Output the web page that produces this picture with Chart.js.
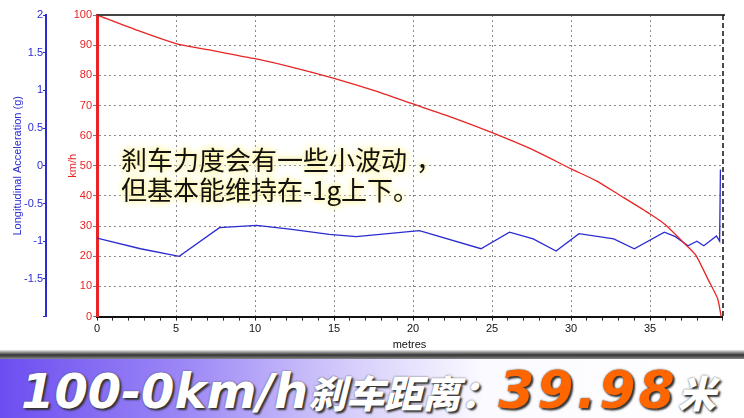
<!DOCTYPE html>
<html>
<head>
<meta charset="utf-8">
<script src="https://cdn.jsdelivr.net/npm/chart.js@4.4.1/dist/chart.umd.min.js"></script>
<style>
  body{margin:0;width:744px;height:418px;overflow:hidden;background:#fff;position:relative;font-family:"Liberation Sans",Arial,sans-serif}
  #wrap{position:absolute;left:0;top:0;width:744px;height:354px}
  #note{position:absolute;left:121px;top:144px;font-family:"Noto Sans CJK SC",sans-serif;font-size:26px;line-height:30px;color:#111;
        text-shadow:0 0 3px #fff7b0,0 0 6px #fff3a0,0 0 9px #fff3a0;white-space:nowrap}
  #note .cm{padding-left:9px}
  #shade{position:absolute;left:0;top:350px;width:744px;height:9px;background:linear-gradient(#e8e8e8,#333 55%,#888)}
  #banner{position:absolute;left:0;top:359px;width:744px;height:59px;background:linear-gradient(90deg,#6c4ef0 0%,#9d88f6 25%,#d8d0fb 48%,#fbfaff 65%,#fff 100%)}
  #title{position:absolute;left:21px;top:366px;white-space:nowrap;font-weight:bold;font-style:italic;color:#fff;line-height:48px;
         font-family:"DejaVu Sans",sans-serif;font-size:48px;text-shadow:2px 2px 2px #333,0 0 2px #555}
  #title .cn{font-family:"Noto Sans CJK SC",sans-serif;font-size:38px;font-weight:900}
  #title .val{color:#ff6600;font-size:52px;letter-spacing:3px}
</style>
</head>
<body>
<div id="wrap"><canvas id="brakechart"></canvas></div>
<div id="note">刹车力度会有一些小波动<span class="cm">，</span><br>但基本能维持在-1g上下。</div>
<div id="shade"></div>
<div id="banner"></div>
<div id="title"><span>100-0km/h</span><span class="cn">刹车距离：</span><span class="val">39.98</span><span class="cn">米</span></div>
<script>
// speed curve (km/h vs metres)
const speedDist = [0, 2.5, 5, 7.5, 10, 12.5, 15, 17.5, 20, 22.5, 25, 27.5, 30, 31.6, 33, 35, 36, 37.3, 37.9, 38.7, 39.27, 39.5]
const speedVals = [100, 95, 90.5, 88, 85.5, 82.5, 79, 75, 70.5, 66, 61, 55.5, 49, 45, 40.5, 34, 30.3, 23.6, 20.3, 12, 6, 0]

// longitudinal acceleration (g vs metres)
const accelDist = [0, 2.75, 5.2, 7.75, 10.1, 12.2, 14.7, 16.4, 20.4, 24.3, 26.1, 27.6, 29.05, 30.5, 32.7, 34.0, 35.9, 36.6, 37.4, 37.96, 38.4, 39.2, 39.4, 39.45]
const accelVals = [-0.96, -1.10, -1.20, -0.82, -0.79, -0.84, -0.91, -0.94, -0.86, -1.10, -0.88, -0.97, -1.13, -0.90, -0.97, -1.10, -0.88, -0.94, -1.06, -1.00, -1.06, -0.93, -1.00, -0.05]

const distMax = 39.55
const xLabelStep = 5
const speedTicks = [0, 100, 10]   // min, max, step
const accelTicks = [-2, 2, 0.5]

const blue = '#2b2bd0'
const red = '#e82424'

// top border line + dashed cursor at the end of the run
const frame = {
  id: 'frame',
  afterDatasetsDraw(chart) {
    const {ctx, chartArea: a} = chart
    ctx.save()
    ctx.strokeStyle = '#444'
    ctx.lineWidth = 2
    ctx.beginPath(); ctx.moveTo(a.left, a.top); ctx.lineTo(a.right + 3, a.top); ctx.stroke()
    ctx.strokeStyle = '#111'
    ctx.lineWidth = 1.5
    ctx.setLineDash([5, 3])
    ctx.beginPath(); ctx.moveTo(a.right + 1, a.top); ctx.lineTo(a.right + 1, a.bottom); ctx.stroke()
    ctx.restore()
  }
}

const ctx = document.getElementById('brakechart').getContext('2d')
new Chart(ctx, {
  type: 'line',
  data: {
    datasets: [
      {
        label: 'km/h',
        data: speedDist.map((d, i) => ({x: d, y: speedVals[i]})),
        borderColor: red,
        borderWidth: 1.3,
        pointRadius: 0,
        tension: 0.2,
        yAxisID: 'y'
      },
      {
        label: 'Longitudinal Acceleration (g)',
        data: accelDist.map((d, i) => ({x: d, y: accelVals[i]})),
        borderColor: blue,
        borderWidth: 1.3,
        pointRadius: 0,
        tension: 0,
        yAxisID: 'g'
      }
    ]
  },
  options: {
    responsive: true,
    maintainAspectRatio: false,
    animation: false,
    events: [],
    layout: {padding: {top: 15, right: 22, bottom: 2, left: 0}},
    plugins: {legend: {display: false}, tooltip: {enabled: false}},
    scales: {
      x: {
        type: 'linear',
        min: 0,
        max: distMax,
        ticks: {
          stepSize: 1,
          autoSkip: false,
          maxRotation: 0,
          padding: 2,
          color: '#111',
          font: {size: 11, family: 'Liberation Sans'},
          callback: v => (v % xLabelStep === 0 ? v : '')
        },
        grid: {
          color: c => (c.tick && c.tick.value % xLabelStep === 0 && c.tick.value > 0 ? '#8a8a8a' : 'transparent'),
          tickColor: '#222',
          tickLength: 4
        },
        border: {color: '#111', width: 2, dash: [2, 3]},
        title: {display: true, text: 'metres', color: '#111', font: {size: 11, family: 'Liberation Sans'}, padding: {top: 1, bottom: 0}}
      },
      y: {
        position: 'left',
        weight: 0,
        min: speedTicks[0],
        max: speedTicks[1],
        ticks: {stepSize: speedTicks[2], color: red, padding: 1, font: {size: 11, family: 'Liberation Sans'}},
        grid: {
          color: c => (c.tick && c.tick.value > 0 && c.tick.value < 100 ? '#8a8a8a' : 'transparent'),
          tickColor: '#777',
          tickLength: 4
        },
        border: {color: red, width: 3, dash: [2, 3]},
        title: {display: true, text: 'km/h', color: red, font: {size: 11, family: 'Liberation Sans'}, padding: {top: 20, bottom: 0}},
        afterFit: s => { s.width = 51 }
      },
      g: {
        position: 'left',
        weight: 1,
        min: accelTicks[0],
        max: accelTicks[1],
        ticks: {
          stepSize: accelTicks[2],
          color: blue,
          padding: 0,
          font: {size: 11, family: 'Liberation Sans'},
          callback: v => (v === accelTicks[0] ? '' : v)
        },
        grid: {drawOnChartArea: false, tickColor: blue, tickLength: 3},
        border: {color: blue, width: 2},
        title: {display: true, text: 'Longitudinal Acceleration (g)', color: blue, font: {size: 11, family: 'Liberation Sans'}, padding: {top: 11, bottom: 0}},
        afterFit: s => { s.width = 46 }
      }
    }
  },
  plugins: [frame]
})
</script>
</body>
</html>
